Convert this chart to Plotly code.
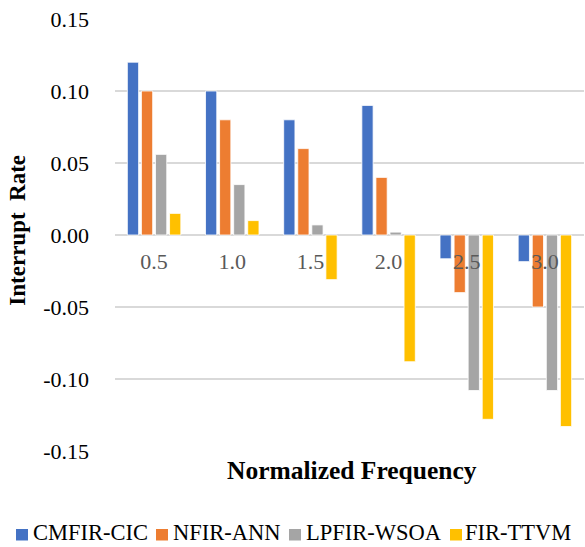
import plotly.graph_objects as go

# Normalized frequency categories
frequencies = ["0.5", "1.0", "1.5", "2.0", "2.5", "3.0"]

# Interrupt rate per method
cmfir_cic = [0.120, 0.100, 0.080, 0.090, -0.0165, -0.0185]
nfir_ann = [0.100, 0.080, 0.060, 0.040, -0.040, -0.050]
lpfir_wsoa = [0.056, 0.035, 0.007, 0.002, -0.108, -0.108]
fir_ttvm = [0.015, 0.010, -0.031, -0.088, -0.128, -0.133]

series_names = ["CMFIR-CIC", "NFIR-ANN", "LPFIR-WSOA", "FIR-TTVM"]
series_values = [cmfir_cic, nfir_ann, lpfir_wsoa, fir_ttvm]
series_colors = ["#4472C4", "#ED7D31", "#A5A5A5", "#FFC000"]

y_ticks = [0.15, 0.10, 0.05, 0.00, -0.05, -0.10, -0.15]

W, H = 585, 547
ML, MR, MT, MB = 115, 1, 19, 96
PLOT_W = W - ML - MR
PLOT_H = H - MT - MB
FONT = "'Liberation Serif', 'Times New Roman', Times, serif"

# legend row layout (page pixels): swatch left edges, label left edges, baseline
LEGEND_SWATCH_X = [16, 156, 289, 450]
LEGEND_LABEL_X = [31, 171, 304, 463]
LEGEND_BASELINE = 540.5
SWATCH_W, SWATCH_H = 12, 11.5


def px_x(px):
    return (px - ML) / PLOT_W


def px_y(py):
    return (H - MB - py) / PLOT_H


fig = go.Figure()
for name, vals, col in zip(series_names, series_values, series_colors):
    fig.add_trace(go.Bar(
        x=frequencies, y=vals, name=name,
        marker=dict(color=col, line=dict(color="white", width=0.8)),
        showlegend=False,
    ))

fig.update_layout(
    width=W, height=H,
    margin=dict(l=ML, r=MR, t=MT, b=MB, pad=0),
    paper_bgcolor="white", plot_bgcolor="white",
    barmode="group", bargap=0.28, bargroupgap=0.2,
    font=dict(family=FONT, size=22, color="black"),
)

fig.update_xaxes(
    type="category", anchor="free", position=0.5,
    showline=False, showgrid=False, zeroline=False,
    ticks="", tickfont=dict(family=FONT, size=22, color="#595959"),
    ticklabelstandoff=11,
)
fig.update_yaxes(
    range=[-0.15, 0.15], tickvals=y_ticks,
    ticktext=[f"{v:.2f}" for v in y_ticks],
    showgrid=True, gridcolor="#D9D9D9", gridwidth=1.5,
    zeroline=True, zerolinecolor="#D9D9D9", zerolinewidth=1.5,
    showline=False, ticks="",
    tickfont=dict(family=FONT, size=22, color="black"),
    ticklabelstandoff=25,
)

# Axis titles
fig.add_annotation(
    text="<b>Normalized Frequency</b>", xref="paper", yref="paper",
    x=px_x(352), y=0, yanchor="middle", yshift=-19,
    showarrow=False, font=dict(family=FONT, size=25.5, color="black"),
)
fig.add_annotation(
    text="<b>Interrupt  Rate</b>", xref="paper", yref="paper",
    x=0, xshift=-97, y=0.51, textangle=-90,
    xanchor="center", yanchor="middle",
    showarrow=False, font=dict(family=FONT, size=23, color="black"),
)

# Legend row under the chart: colour swatch + series label
legend_font = 22.5
for name, col, sx, tx in zip(series_names, series_colors, LEGEND_SWATCH_X, LEGEND_LABEL_X):
    fig.add_shape(
        type="rect", xref="paper", yref="paper",
        x0=px_x(sx), x1=px_x(sx + SWATCH_W),
        y0=px_y(LEGEND_BASELINE), y1=px_y(LEGEND_BASELINE - SWATCH_H),
        fillcolor=col, line=dict(width=0), layer="above",
    )
    fig.add_annotation(
        text=name, xref="paper", yref="paper",
        x=px_x(tx), xanchor="left",
        y=px_y(LEGEND_BASELINE - 0.337 * legend_font), yanchor="middle",
        showarrow=False, font=dict(family=FONT, size=legend_font, color="black"),
    )

fig.write_html("out.html")
